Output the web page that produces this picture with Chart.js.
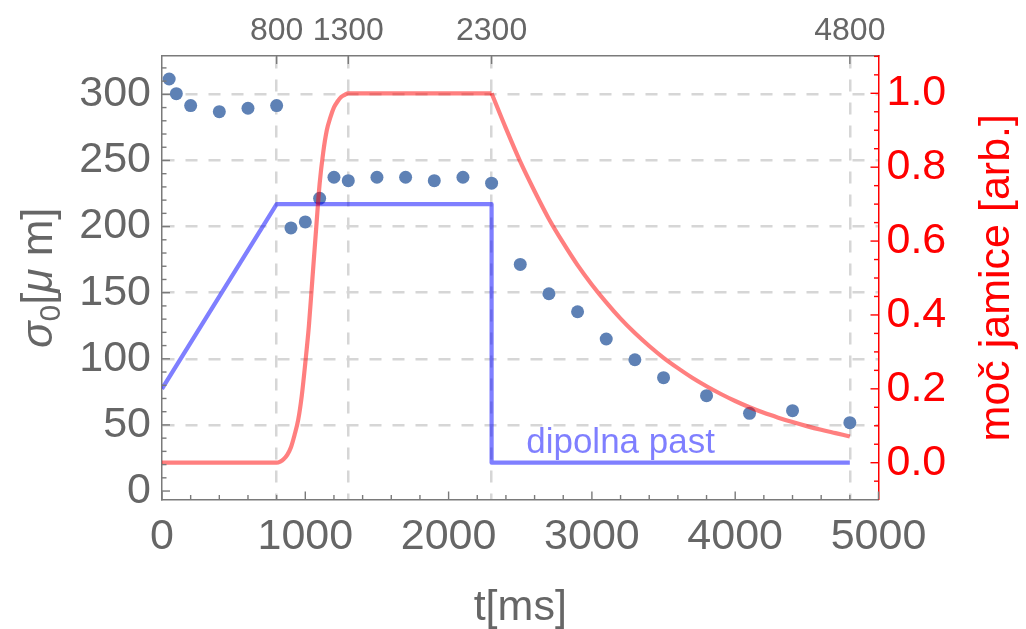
<!DOCTYPE html>
<html><head><meta charset="utf-8">
<script src="https://cdn.jsdelivr.net/npm/chart.js@4.4.0/dist/chart.umd.min.js"></script>
<style>html,body{margin:0;padding:0;background:#fff;}#wrap{width:1026px;height:629px;}</style>
</head><body><div id="wrap"><canvas id="c" width="1026" height="629"></canvas></div>
<script>
// measured beam width sigma_0 [um] vs time [ms]
const sigmaTimes  = [50,100,200,400,600,800,900,1000,1100,1200,1300,1500,1700,1900,2100,2300,2500,2700,2900,3100,3300,3500,3800,4100,4400,4800];
const sigmaValues = [311.6,300.5,291.5,286.9,289.5,291.5,199,203.5,221.4,237.3,234.7,237.3,237.3,234.7,237.3,232.8,171.4,149.2,135.6,115,99.3,85.7,72.1,58.8,60.8,51.7];
// lattice (jamica) power [arb.]: ramp-up part and decay part
const rampTimes  = [0,800,825,850,875,900,925,950,975,1000,1025,1050,1075,1100,1125,1150,1175,1200,1225,1250,1275,1300,2300];
const rampValues = [0,0,0.003,0.01,0.022,0.042,0.075,0.115,0.18,0.27,0.37,0.5,0.63,0.755,0.84,0.9,0.935,0.962,0.978,0.99,0.996,1,1];
const decayTimes  = [2300,2400,2500,2600,2700,2800,2900,3000,3100,3200,3300,3400,3500,3600,3700,3800,3900,4000,4100,4200,4300,4400,4500,4600,4700,4800];
const decayValues = [1,0.905,0.815,0.735,0.66,0.595,0.535,0.482,0.434,0.39,0.351,0.316,0.284,0.256,0.23,0.207,0.186,0.167,0.15,0.135,0.122,0.11,0.099,0.089,0.08,0.071];
// dipole trap power [arb.]
const trapTimes  = [0,800,2300,2300,4800];
const trapValues = [0.2,0.7,0.7,0,0];
// tick labels
const bottomTicks = [0,1000,2000,3000,4000,5000];
const topTicks = [800,1300,2300,4800];
const trapLabel = 'dipolna past';

const toXY = (xs, ys) => xs.map((x, i) => ({x: x, y: ys[i]}));
const GRAY = '#666666', AXIS = '#7a7a7a', GRID = '#d6d6d6', FONT = '"Liberation Sans", Arial, sans-serif';
const RED = 'rgba(255,0,0,0.5)', BLUE = 'rgba(0,0,255,0.5)';

const frameTicks = {
  id: 'frameTicks',
  afterDraw(chart) {
    const ctx = chart.ctx, a = chart.chartArea, s = chart.scales;
    ctx.save();
    ctx.lineWidth = 1.4;
    const tick = (x1, y1, x2, y2, c) => { ctx.strokeStyle = c; ctx.beginPath(); ctx.moveTo(x1, y1); ctx.lineTo(x2, y2); ctx.stroke(); };
    for (let v = 0; v <= 320; v += 10) {
      const y = s.y.getPixelForValue(v), L = v % 50 === 0 ? 8 : 4.5;
      tick(a.left, y, a.left + L, y, AXIS);
    }
    for (let v = 0; v <= 5000; v += 200) {
      const x = s.x.getPixelForValue(v), L = v % 1000 === 0 ? 8 : 4.5;
      tick(x, a.bottom, x, a.bottom - L, AXIS);
    }
    topTicks.forEach(v => { const x = s.x2.getPixelForValue(v); tick(x, a.top, x, a.top + 8, AXIS); });
    for (let k = -1; k <= 22; k++) {
      const v = k * 0.05; if (v < -0.099 || v > 1.1) continue;
      const y = s.y2.getPixelForValue(v), L = k % 4 === 0 ? 8 : 4.5;
      tick(a.right, y, a.right - L, y, '#ff0000');
    }
    ctx.restore();
  }
};

const titles = {
  id: 'titles',
  afterDraw(chart) {
    const ctx = chart.ctx, s = chart.scales, a = chart.chartArea;
    const cy = (a.top + a.bottom) / 2;
    ctx.save();
    ctx.textBaseline = 'alphabetic';
    ctx.fillStyle = GRAY; ctx.font = '43px ' + FONT; ctx.textAlign = 'center';
    ctx.fillText('t[ms]', (a.left + a.right) / 2, 620);
    ctx.save();
    ctx.translate(52, cy); ctx.rotate(-Math.PI / 2); ctx.textAlign = 'left';
    const parts = [
      {t: '\u03c3', f: 'italic 44px ' + FONT, dy: 0},
      {t: '0', f: '30px ' + FONT, dy: 8},
      {t: '[', f: '44px ' + FONT, dy: 0},
      {t: '\u03bc', f: 'italic 44px ' + FONT, dy: 0},
      {t: ' m]', f: '44px ' + FONT, dy: 0}
    ];
    let w = 0; parts.forEach(p => { ctx.font = p.f; p.w = ctx.measureText(p.t).width; w += p.w; });
    let x = -w / 2;
    parts.forEach(p => { ctx.font = p.f; ctx.fillText(p.t, x, p.dy); x += p.w; });
    ctx.restore();
    ctx.save();
    ctx.translate(1009, cy); ctx.rotate(-Math.PI / 2);
    ctx.fillStyle = '#ff0000'; ctx.font = '43px ' + FONT; ctx.textAlign = 'center';
    ctx.fillText('mo\u010d jamice [arb.]', 0, 0);
    ctx.restore();
    ctx.fillStyle = BLUE; ctx.font = '35px ' + FONT; ctx.textAlign = 'center';
    ctx.fillText(trapLabel, s.x.getPixelForValue(3200), s.y2.getPixelForValue(0.025));
    ctx.restore();
  }
};

const lineStyle = (c) => ({yAxisID: 'y2', showLine: true, borderColor: c, borderWidth: 4.2, pointRadius: 0, fill: false, borderJoinStyle: 'round'});

new Chart(document.getElementById('c'), {
  type: 'scatter',
  data: {
    datasets: [
      Object.assign({label: 'jamica', data: toXY(rampTimes, rampValues), cubicInterpolationMode: 'monotone'}, lineStyle(RED)),
      Object.assign({label: 'jamica decay', data: toXY(decayTimes, decayValues), cubicInterpolationMode: 'monotone'}, lineStyle(RED)),
      Object.assign({label: 'dipolna past', data: toXY(trapTimes, trapValues), tension: 0}, lineStyle(BLUE)),
      {label: 'sigma', data: toXY(sigmaTimes, sigmaValues), yAxisID: 'y',
       backgroundColor: '#5e81b5', borderColor: '#5e81b5', borderWidth: 0, pointRadius: 6.5}
    ]
  },
  options: {
    responsive: false, animation: false, devicePixelRatio: 1,
    layout: {padding: 0},
    plugins: {legend: {display: false}, tooltip: {enabled: false}},
    scales: {
      x: {type: 'linear', position: 'bottom', min: 0, max: 5000,
          afterBuildTicks: sc => { sc.ticks = bottomTicks.map(v => ({value: v})); },
          afterFit: sc => { sc.height = 129.5; },
          grid: {display: false, drawTicks: false},
          border: {display: true, color: AXIS, width: 1.5},
          ticks: {color: GRAY, font: {size: 43, family: FONT}, padding: 12, maxRotation: 0, autoSkip: false, callback: v => String(v)}},
      x2: {type: 'linear', position: 'top', min: 0, max: 5000,
          afterBuildTicks: sc => { sc.ticks = topTicks.map(v => ({value: v})); },
          afterFit: sc => { sc.height = 56; },
          grid: {display: true, color: GRID, lineWidth: 2.5, drawTicks: false},
          border: {display: true, color: AXIS, width: 1.5, dash: [12, 11]},
          ticks: {color: GRAY, font: {size: 32, family: FONT}, padding: 6, maxRotation: 0, autoSkip: false, callback: v => String(v)}},
      y: {type: 'linear', position: 'left', min: -6.4, max: 329,
          ticks: {stepSize: 50, includeBounds: false, color: GRAY, font: {size: 43, family: FONT}, padding: 11, callback: v => String(v)},
          afterFit: sc => { sc.width = 162; },
          grid: {color: c => (c.tick && c.tick.value > 0) ? GRID : 'rgba(0,0,0,0)', lineWidth: 2.5, drawTicks: false},
          border: {display: true, color: AXIS, width: 1.5, dash: [12, 11]}},
      y2: {type: 'linear', position: 'right', min: -0.0996, max: 1.101,
          ticks: {stepSize: 0.2, includeBounds: false, color: '#ff0000', font: {size: 43, family: FONT}, padding: 8,
                  callback: v => v.toFixed(1)},
          afterFit: sc => { sc.width = 147.5; },
          grid: {display: false, drawTicks: false},
          border: {display: true, color: '#ff0000', width: 1.5}}
    }
  },
  plugins: [frameTicks, titles]
});
</script></body></html>
